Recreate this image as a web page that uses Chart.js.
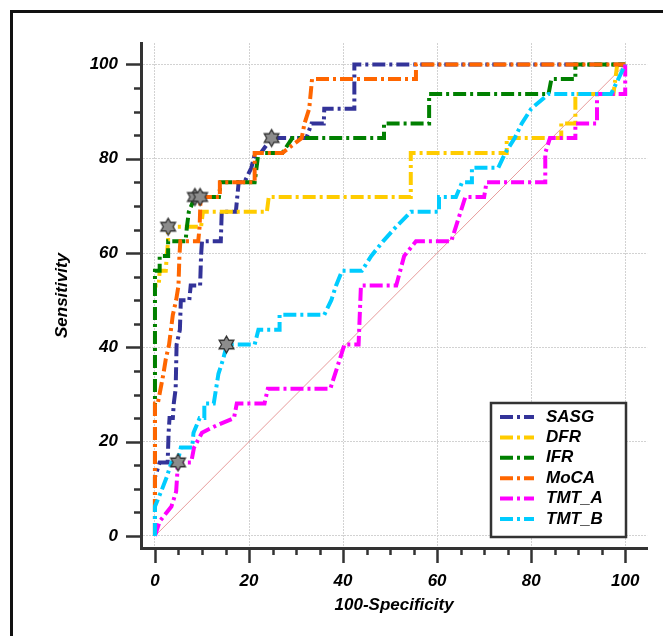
<!DOCTYPE html>
<html>
<head>
<meta charset="utf-8">
<title>ROC curves</title>
<script src="https://cdn.jsdelivr.net/npm/chart.js@4/dist/chart.umd.min.js"></script>
<style>
  html, body { margin: 0; padding: 0; background: #fff; }
  #wrap { position: relative; width: 663px; height: 636px; overflow: hidden; }
  #frame {
    position: absolute; left: 10px; top: 10px; width: 800px; height: 800px;
    border-top: 3px solid #111; border-left: 3px solid #111; pointer-events: none;
  }
</style>
</head>
<body>
<div id="wrap">
  <div id="frame"></div>
  <canvas id="roc"></canvas>
</div>
<script>
  // --- data (x = 100-Specificity, y = Sensitivity)
  const seriesNames = ["SASG", "DFR", "IFR", "MoCA", "TMT_A", "TMT_B"];
  const seriesColors = ["#333399", "#ffcc00", "#008000", "#ff6600", "#ff00ff", "#00ccff"];

  const sasgX = [0, 0, 1, 2.7, 2.9, 3.1, 3.8, 4, 4.4, 4.6, 5.3, 5.5, 7.3, 7.6, 9.6, 9.8, 10, 14, 14.2, 17.2, 17.5, 17.8, 19, 20.5, 21.3, 22.5, 24.8, 32.2, 33.3, 35.9, 36, 42.4, 42.4, 100];
  const sasgY = [0, 12.5, 15.6, 15.6, 21.9, 25, 25, 28.1, 31.25, 40.6, 43.75, 50, 50, 53.1, 53.1, 59.4, 62.5, 62.5, 68.75, 68.75, 71.9, 75, 75, 78.1, 81.25, 81.25, 84.4, 84.4, 87.5, 87.5, 90.6, 90.6, 100, 100];

  const dfrX = [0, 0, 0.8, 1, 2.3, 2.5, 2.8, 2.8, 9.8, 10.2, 23.8, 24.2, 54.4, 54.4, 74.8, 74.8, 86.4, 86.4, 89.4, 89.4, 97.5, 98.3, 100];
  const dfrY = [0, 53.1, 53.1, 56.25, 56.25, 59.4, 62.5, 65.6, 65.6, 68.75, 68.75, 71.9, 71.9, 81.25, 81.25, 84.4, 84.4, 87.5, 87.5, 93.75, 93.75, 100, 100];

  const ifrX = [0, 0, 1, 1, 2.8, 2.8, 6.5, 6.8, 7.2, 8.5, 13.6, 14, 21.2, 22, 27.1, 29.2, 48.7, 48.7, 58.3, 58.3, 83.7, 84.3, 89.4, 89.4, 100];
  const ifrY = [0, 56.25, 56.25, 59.4, 59.4, 62.5, 62.5, 65.6, 68.75, 71.9, 71.9, 75, 75, 81.25, 81.25, 84.4, 84.4, 87.5, 87.5, 93.75, 93.75, 96.9, 96.9, 100, 100];

  const mocaX = [0, 0, 0.6, 1.2, 1.8, 2.3, 3, 3.4, 3.8, 4.5, 5, 5.2, 5.4, 9.2, 9.5, 9.7, 13.8, 13.8, 21.2, 21.2, 27.1, 31.2, 31.8, 32.8, 33.4, 55.5, 55.5, 100];
  const mocaY = [0, 28.1, 28.1, 31.25, 34.4, 37.5, 40.6, 43.75, 46.9, 50, 53.1, 59.4, 62.5, 62.5, 65.6, 71.9, 71.9, 75, 75, 81.25, 81.25, 84.4, 87.5, 90.6, 96.9, 96.9, 100, 100];

  const tmtAX = [0, 1, 3.5, 4.5, 4.9, 7.7, 8.3, 10, 13, 16.8, 17.4, 23.3, 24, 37.3, 40.3, 43.3, 43.8, 51.3, 53, 55.5, 63, 65, 66, 70, 70.5, 83, 83, 84, 89.4, 89.4, 94, 94, 100, 100];
  const tmtAY = [0, 3.1, 6.25, 9.4, 15.6, 15.6, 18.75, 21.9, 23.4, 25, 28.1, 28.1, 31.25, 31.25, 40.6, 40.6, 53.1, 53.1, 59.4, 62.5, 62.5, 68.75, 71.9, 71.9, 75, 75, 81.25, 84.4, 84.4, 87.5, 87.5, 93.75, 93.75, 100];

  const tmtBX = [0, 0, 1.3, 2.5, 3.5, 4.8, 5.5, 7.9, 8.2, 9.5, 10.5, 10.5, 12.5, 13.5, 14.5, 15.3, 21.2, 22, 26.5, 26.5, 36, 37.5, 38.5, 39.8, 44, 46, 48.5, 51.3, 54.4, 60.4, 60.4, 64, 65.3, 67.4, 67.4, 73, 74.5, 76.5, 78, 80, 83.7, 97, 100];
  const tmtBY = [0, 6.25, 9.4, 12.5, 15.6, 15.6, 18.75, 18.75, 21.9, 25, 25, 28.1, 28.1, 34.4, 37.5, 40.6, 40.6, 43.75, 43.75, 46.9, 46.9, 50, 53.1, 56.25, 56.25, 59.4, 62.5, 65.6, 68.75, 68.75, 71.9, 71.9, 75, 75, 78.1, 78.1, 81.25, 84.4, 87.5, 90.6, 93.75, 93.75, 100];

  // optimal cut-off points (gray stars), one per series
  const starX = [24.8, 2.8, 8.5, 9.6, 4.9, 15.2];
  const starY = [84.4, 65.6, 71.9, 71.9, 15.6, 40.6];

  const refX = [0, 100];
  const refY = [0, 100];

  const majorTicks = [0, 20, 40, 60, 80, 100];
  const minorTicks = [0, 5, 10, 15, 20, 25, 30, 35, 40, 45, 50, 55, 60, 65, 70, 75, 80, 85, 90, 95, 100];

  // --- helpers
  const FONT = "'Liberation Sans', Arial, sans-serif";
  const AXIS = "#333";
  const DASH = [13, 4, 3, 4];

  function pts(xs, ys) {
    return xs.map((x, i) => ({ x, y: ys[i] }));
  }

  function makeStar(r) {
    const size = Math.ceil(r * 2 + 4);
    const c = document.createElement("canvas");
    c.width = size;
    c.height = size;
    const g = c.getContext("2d");
    g.translate(size / 2, size / 2);
    g.beginPath();
    for (let i = 0; i < 12; i++) {
      const rad = i % 2 === 0 ? r : r * 0.58;
      const a = -Math.PI / 2 + (i * Math.PI) / 6;
      g.lineTo(rad * Math.cos(a), rad * Math.sin(a));
    }
    g.closePath();
    g.fillStyle = "#8c8c8c";
    g.fill();
    g.lineWidth = 1.3;
    g.strokeStyle = "#333";
    g.stroke();
    return c;
  }

  const seriesXs = [sasgX, dfrX, ifrX, mocaX, tmtAX, tmtBX];
  const seriesYs = [sasgY, dfrY, ifrY, mocaY, tmtAY, tmtBY];

  const datasets = seriesNames.map((name, i) => ({
    label: name,
    data: pts(seriesXs[i], seriesYs[i]),
    showLine: true,
    borderColor: seriesColors[i],
    backgroundColor: seriesColors[i],
    borderWidth: 4,
    borderDash: DASH,
    borderCapStyle: "butt",
    borderJoinStyle: "miter",
    pointRadius: 0,
    tension: 0,
    order: seriesNames.length - i // later series drawn on top
  }));

  datasets.push({
    label: "reference",
    data: pts(refX, refY),
    showLine: true,
    borderColor: "rgba(225,130,130,0.8)",
    borderWidth: 1,
    pointRadius: 0,
    order: 20
  });

  datasets.push({
    label: "cut-off",
    data: pts(starX, starY),
    showLine: false,
    pointStyle: makeStar(8.5),
    pointRadius: 9,
    order: 0
  });

  // --- plugins: outward tick marks (major/minor) + boxed legend
  const tickMarks = {
    id: "tickMarks",
    afterDraw(chart) {
      const { ctx, scales: { x, y } } = chart;
      ctx.save();
      ctx.strokeStyle = AXIS;
      ctx.lineWidth = 2.5;
      ctx.beginPath();
      for (const v of minorTicks) {
        const len = majorTicks.includes(v) ? 15 : 7;
        const px = Math.round(x.getPixelForValue(v)) + 0.5;
        ctx.moveTo(px, x.top);
        ctx.lineTo(px, x.top + len);
        const py = Math.round(y.getPixelForValue(v)) + 0.5;
        ctx.moveTo(y.right, py);
        ctx.lineTo(y.right - len, py);
      }
      ctx.stroke();
      ctx.restore();
    }
  };

  const boxLegend = {
    id: "boxLegend",
    afterDraw(chart) {
      const { ctx } = chart;
      const left = 491, top = 403, w = 135, h = 134;
      ctx.save();
      ctx.fillStyle = "#fff";
      ctx.fillRect(left, top, w, h);
      ctx.strokeStyle = AXIS;
      ctx.lineWidth = 2.5;
      ctx.strokeRect(left, top, w, h);
      ctx.font = "italic bold 17px " + FONT;
      ctx.textBaseline = "middle";
      ctx.fillStyle = "#000";
      seriesNames.forEach((name, i) => {
        const cy = top + 14 + i * 20.4;
        ctx.save();
        ctx.strokeStyle = seriesColors[i];
        ctx.lineWidth = 4;
        ctx.setLineDash(DASH);
        ctx.beginPath();
        ctx.moveTo(500, cy);
        ctx.lineTo(534, cy);
        ctx.stroke();
        ctx.restore();
        ctx.fillText(name, 546, cy);
      });
      ctx.restore();
    }
  };

  function axisOptions(titleText, titlePad, tickPad, width, height) {
    return {
      type: "linear",
      min: -2.97,
      max: 104.66,
      afterBuildTicks: (scale) => {
        scale.ticks = minorTicks.map((v) => ({ value: v }));
      },
      afterFit: (scale) => {
        if (width) scale.width = width;
        if (height) scale.height = height;
      },
      ticks: {
        autoSkip: false,
        maxRotation: 0,
        padding: tickPad,
        color: "#000",
        font: { family: FONT, size: 17, style: "italic", weight: "bold" },
        callback: (v) => (majorTicks.includes(v) ? String(v) : "")
      },
      grid: {
        drawTicks: false,
        lineWidth: 1,
        color: (c) => (c.tick && majorTicks.includes(c.tick.value) ? "#d2d2d2" : "transparent")
      },
      border: { display: true, color: AXIS, width: 3, dash: [2, 1] },
      title: {
        display: true,
        text: titleText,
        color: "#000",
        padding: titlePad,
        font: { family: FONT, size: 17, style: "italic", weight: "bold" }
      }
    };
  }

  const xOpts = axisOptions("100-Specificity", { top: 0, bottom: 20 }, 23, 0, 88);
  const yOpts = axisOptions("Sensitivity", { top: 52, bottom: 0 }, 23, 141, 0);
  yOpts.min = -2.55;
  yOpts.max = 104.56;

  new Chart(document.getElementById("roc"), {
    type: "scatter",
    data: { datasets },
    options: {
      responsive: true,
      maintainAspectRatio: false,
      animation: false,
      layout: { padding: { left: 0, top: 43, right: 14, bottom: 0 } },
      plugins: {
        legend: { display: false },
        tooltip: { enabled: false }
      },
      scales: { x: xOpts, y: yOpts }
    },
    plugins: [tickMarks, boxLegend]
  });
</script>
</body>
</html>
